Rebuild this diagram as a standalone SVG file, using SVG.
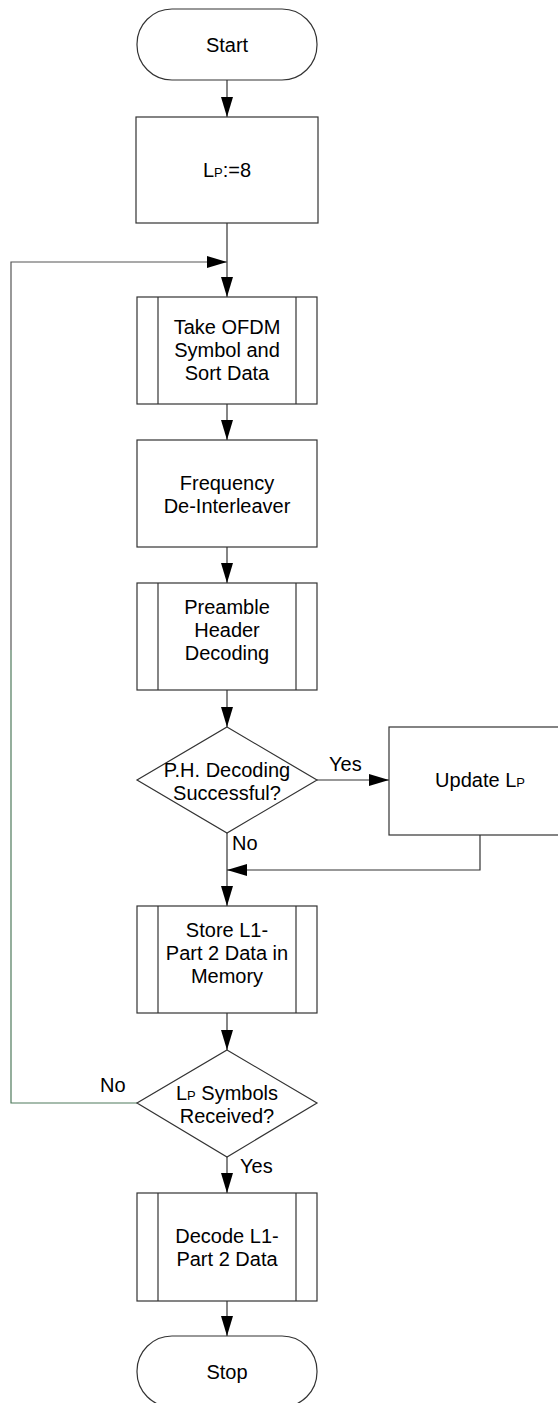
<svg xmlns="http://www.w3.org/2000/svg" width="558" height="1403" viewBox="0 0 558 1403">
<style>
.s{fill:#fff;stroke:#333;stroke-width:1.2}
.t{font-family:"Liberation Sans",Arial,sans-serif;font-size:20px;fill:#000;text-anchor:middle}
.l{font-family:"Liberation Sans",Arial,sans-serif;font-size:20px;fill:#000}
.sub{font-size:13px}
.c{fill:none;stroke:#333;stroke-width:1.2}
</style>
<defs>
<marker id="a" markerWidth="20" markerHeight="12" refX="20" refY="6" orient="auto" markerUnits="userSpaceOnUse">
<path d="M0,0 L20,6 L0,12 Z" fill="#000"/>
</marker>
</defs>
<rect width="558" height="1403" fill="#fff"/>
<g id="connectors">
<line class="c" x1="227" y1="80" x2="227" y2="117" marker-end="url(#a)"/>
<line class="c" x1="227" y1="223" x2="227" y2="297" marker-end="url(#a)"/>
<line class="c" x1="227" y1="404" x2="227" y2="440" marker-end="url(#a)"/>
<line class="c" x1="227" y1="547" x2="227" y2="583" marker-end="url(#a)"/>
<line class="c" x1="227" y1="690" x2="227" y2="727" marker-end="url(#a)"/>
<line class="c" x1="317" y1="780" x2="389" y2="780" marker-end="url(#a)"/>
<line class="c" x1="227" y1="833" x2="227" y2="906" marker-end="url(#a)"/>
<polyline class="c" points="480,835 480,870 227,870" marker-end="url(#a)"/>
<line class="c" x1="227" y1="1013" x2="227" y2="1050" marker-end="url(#a)"/>
<line class="c" x1="227" y1="1157" x2="227" y2="1193" marker-end="url(#a)"/>
<line class="c" x1="227" y1="1301" x2="227" y2="1336" marker-end="url(#a)"/>
<polyline fill="none" stroke="#4f7a5c" stroke-width="1.2" points="137,1103 11,1103 11,650"/>
<polyline fill="none" stroke="#555" stroke-width="1.2" points="11,650 11,262 227,262" marker-end="url(#a)"/>
<text class="l" x="329" y="771">Yes</text>
<text class="l" x="232" y="850">No</text>
<text class="l" x="100" y="1092">No</text>
<text class="l" x="240" y="1173">Yes</text>
</g>
<g id="start">
<rect class="s" x="137" y="9" width="180" height="71" rx="35" ry="35"/>
<text class="t" x="227" y="52">Start</text>
</g>
<g id="init">
<rect class="s" x="136" y="117" width="182" height="106"/>
<text class="t" x="227" y="177">L<tspan class="sub">P</tspan>:=8</text>
</g>
<g id="take">
<rect class="s" x="137" y="297" width="180" height="107"/>
<line class="s" x1="158" y1="297" x2="158" y2="404"/>
<line class="s" x1="296" y1="297" x2="296" y2="404"/>
<text class="t" x="227" y="334">Take OFDM</text>
<text class="t" x="227" y="357">Symbol and</text>
<text class="t" x="227" y="380">Sort Data</text>
</g>
<g id="freq">
<rect class="s" x="137" y="440" width="180" height="107"/>
<text class="t" x="227" y="490">Frequency</text>
<text class="t" x="227" y="513">De-Interleaver</text>
</g>
<g id="preamble">
<rect class="s" x="137" y="583" width="180" height="107"/>
<line class="s" x1="158" y1="583" x2="158" y2="690"/>
<line class="s" x1="296" y1="583" x2="296" y2="690"/>
<text class="t" x="227" y="614">Preamble</text>
<text class="t" x="227" y="637">Header</text>
<text class="t" x="227" y="660">Decoding</text>
</g>
<g id="phdec">
<polygon class="s" points="227,727 317,780 227,833 137,780"/>
<text class="t" x="227" y="777">P.H. Decoding</text>
<text class="t" x="227" y="800">Successful?</text>
</g>
<g id="update">
<rect class="s" x="389" y="727" width="182" height="108"/>
<text class="t" x="480" y="787">Update L<tspan class="sub">P</tspan></text>
</g>
<g id="store">
<rect class="s" x="137" y="906" width="180" height="107"/>
<line class="s" x1="158" y1="906" x2="158" y2="1013"/>
<line class="s" x1="296" y1="906" x2="296" y2="1013"/>
<text class="t" x="227" y="937">Store L1-</text>
<text class="t" x="227" y="960">Part 2 Data in</text>
<text class="t" x="227" y="983">Memory</text>
</g>
<g id="lpsym">
<polygon class="s" points="227,1050 317,1103 227,1157 137,1103"/>
<text class="t" x="227" y="1100">L<tspan class="sub">P</tspan> Symbols</text>
<text class="t" x="227" y="1123">Received?</text>
</g>
<g id="decode">
<rect class="s" x="137" y="1193" width="180" height="108"/>
<line class="s" x1="158" y1="1193" x2="158" y2="1301"/>
<line class="s" x1="296" y1="1193" x2="296" y2="1301"/>
<text class="t" x="227" y="1243">Decode L1-</text>
<text class="t" x="227" y="1266">Part 2 Data</text>
</g>
<g id="stop">
<rect class="s" x="137" y="1336" width="180" height="71" rx="35" ry="35"/>
<text class="t" x="227" y="1379">Stop</text>
</g>
</svg>
